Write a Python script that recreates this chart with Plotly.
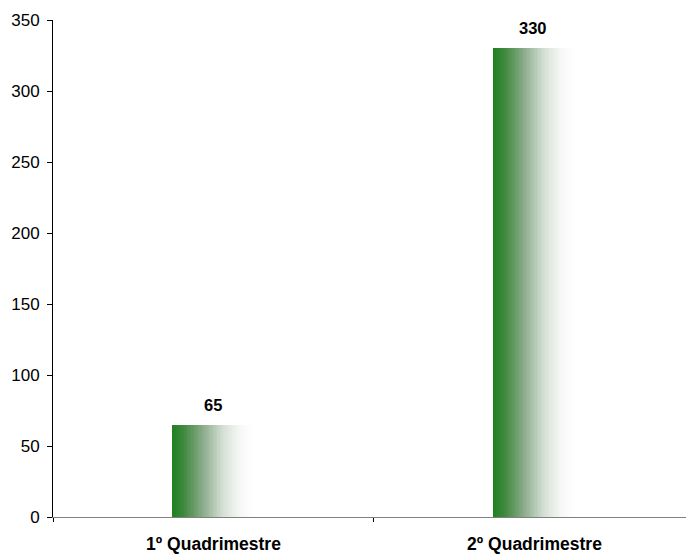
import plotly.graph_objects as go

# Data
categories = ["1º Quadrimestre", "2º Quadrimestre"]
values = [65, 330]
y_ticks = [0, 50, 100, 150, 200, 250, 300, 350]

# Horizontal green-to-white fill, built from thin overlaid bar slices
BAR_WIDTH = 0.255
N_SLICES = 60
stops = [
    (0.00, (30, 128, 30)),
    (0.15, (65, 138, 65)),
    (0.38, (140, 172, 140)),
    (0.62, (212, 224, 212)),
    (0.82, (245, 247, 245)),
    (1.00, (255, 255, 255)),
]


def blend(t):
    for (t0, c0), (t1, c1) in zip(stops[:-1], stops[1:]):
        if t <= t1:
            f = (t - t0) / (t1 - t0) if t1 > t0 else 0
            return "rgb(%d,%d,%d)" % tuple(round(a + (b - a) * f) for a, b in zip(c0, c1))
    return "rgb(255,255,255)"


fig = go.Figure()
slice_w = BAR_WIDTH / N_SLICES
for i in range(N_SLICES):
    t = (i + 0.5) / N_SLICES
    fig.add_trace(go.Bar(
        x=categories,
        y=values,
        width=slice_w * 1.05,
        offset=-BAR_WIDTH / 2 + i * slice_w,
        marker=dict(color=blend(t), line=dict(width=0)),
        hoverinfo="skip",
        showlegend=False,
    ))

# Value labels above each bar
for c, v in zip(categories, values):
    fig.add_annotation(
        x=c, y=v, text="<b>%d</b>" % v, showarrow=False,
        yanchor="bottom", yshift=9, xshift=-1,
        font=dict(family="Liberation Sans, Arial, sans-serif", size=16.5, color="#000000"),
    )

fig.update_layout(
    width=686, height=554,
    margin=dict(l=53, r=0, t=20, b=37),
    paper_bgcolor="white", plot_bgcolor="white",
    barmode="overlay", bargap=0,
    font=dict(family="Liberation Sans, Arial, sans-serif", size=17, color="#000000"),
)
fig.update_xaxes(
    type="category", range=[-0.5, 1.472],
    showline=True, linecolor="#808080", linewidth=1,
    ticks="outside", tickson="boundaries", ticklen=4, tickcolor="#000000",
    tickfont=dict(size=17.5, family="Liberation Sans, Arial, sans-serif", weight="bold"),
    ticklabelstandoff=11, automargin=False,
    showgrid=False, zeroline=False,
)
fig.update_yaxes(
    range=[0, 350], tickvals=y_ticks,
    showline=True, linecolor="#000000", linewidth=1,
    ticks="outside", ticklen=5, tickcolor="#000000",
    ticklabelstandoff=4, automargin=False,
    showgrid=False, zeroline=False,
)

fig.write_html("out.html")
